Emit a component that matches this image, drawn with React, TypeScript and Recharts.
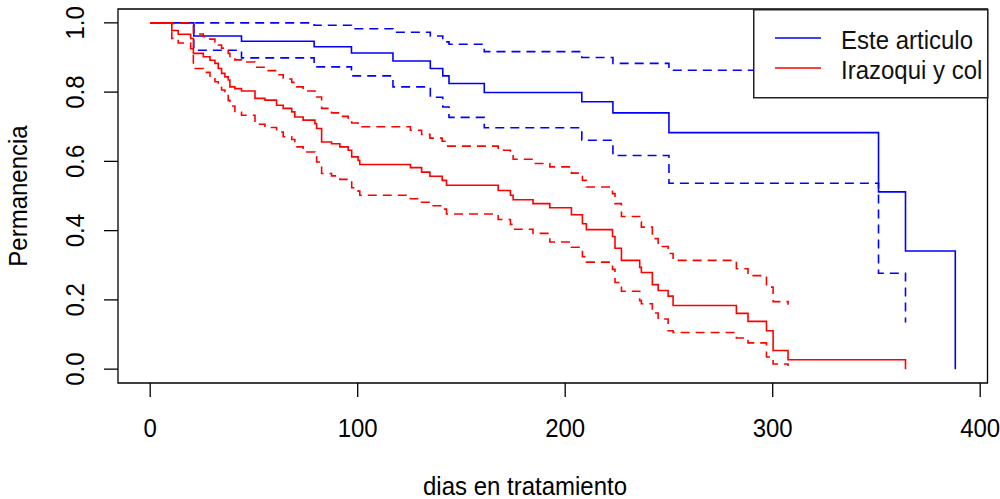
import { LineChart, Line, XAxis, YAxis, ReferenceArea, Legend } from 'recharts';

const FONT = '"Liberation Sans", Arial, sans-serif';

// ejes
const xTicks = [0, 100, 200, 300, 400];
const yTicks = [0, 0.2, 0.4, 0.6, 0.8, 1];
const xDomain = [-15.52, 403.52];
const yDomain = [-0.04, 1.04];

// Este articulo (azul)
const blueTimes = [0, 21, 44, 79, 97, 117, 135, 141, 144, 161, 208, 223, 250, 351, 364, 388];
const blueSurv = [1, 0.962, 0.947, 0.931, 0.913, 0.89, 0.868, 0.847, 0.825, 0.799, 0.772, 0.74, 0.683, 0.512, 0.341, 0];
const blueUpper = [1, 1, 1, 0.993, 0.983, 0.973, 0.962, 0.945, 0.938, 0.917, 0.9, 0.883, 0.863, 0.85, 0.8, null];
const blueLower = [1, 0.921, 0.899, 0.873, 0.847, 0.815, 0.785, 0.757, 0.727, 0.697, 0.661, 0.617, 0.537, 0.277, 0.135, null];

// Irazoqui y col (rojo)
const redTimes = [
  0, 10.4, 13.5, 19.5, 20.8, 25.6, 28.8, 31.2, 32.8, 34.4, 36, 37.6, 38.4, 40.8, 44, 50.5, 55.3, 60.9, 64.1, 68.2,
  69.7, 73.7, 79.4, 80.2, 82.6, 87.4, 91.4, 95.4, 97.1, 100.2, 101, 125.4, 130.8, 134.8, 140.7, 142.8, 167.7, 173.6,
  174.9, 184.5, 192.6, 203, 208.3, 210.2, 222.8, 224, 227.1, 235.9, 236.7, 242, 244.8, 249.6, 252, 282.5, 288.1,
  297, 300.2, 307.4, 364,
];
const redSurv = [
  1, 0.978, 0.967, 0.955, 0.912, 0.902, 0.892, 0.883, 0.868, 0.854, 0.844, 0.835, 0.815, 0.81, 0.803, 0.782, 0.777,
  0.762, 0.753, 0.743, 0.728, 0.719, 0.709, 0.695, 0.656, 0.651, 0.642, 0.632, 0.613, 0.603, 0.591, 0.582, 0.569,
  0.557, 0.545, 0.531, 0.516, 0.502, 0.489, 0.478, 0.466, 0.446, 0.42, 0.403, 0.383, 0.349, 0.314, 0.294, 0.279,
  0.244, 0.227, 0.211, 0.184, 0.161, 0.138, 0.111, 0.054, 0.027, 0,
];
const redUpper = [
  1, 1, 1, 1, 0.968, 0.96, 0.953, 0.945, 0.936, 0.927, 0.92, 0.912, 0.9, 0.893, 0.887, 0.872, 0.862, 0.85, 0.838,
  0.828, 0.815, 0.803, 0.796, 0.786, 0.753, 0.74, 0.73, 0.719, 0.711, 0.705, 0.7, 0.69, 0.678, 0.667, 0.658, 0.644,
  0.632, 0.625, 0.606, 0.594, 0.584, 0.566, 0.545, 0.526, 0.507, 0.478, 0.441, 0.425, 0.41, 0.377, 0.354, 0.334,
  0.314, 0.29, 0.27, 0.237, 0.195, 0.186, null,
];
const redLower = [
  1, 0.955, 0.942, 0.925, 0.868, 0.857, 0.843, 0.83, 0.818, 0.806, 0.793, 0.776, 0.76, 0.742, 0.733, 0.707, 0.698,
  0.685, 0.671, 0.663, 0.642, 0.627, 0.613, 0.598, 0.565, 0.558, 0.548, 0.54, 0.524, 0.514, 0.502, 0.492, 0.482,
  0.472, 0.462, 0.448, 0.432, 0.418, 0.404, 0.392, 0.367, 0.352, 0.325, 0.309, 0.288, 0.25, 0.225, 0.198, 0.189,
  0.162, 0.145, 0.111, 0.106, 0.09, 0.076, 0.035, 0.015, 0.009, null,
];

const toPoints = (times: number[], vals: (number | null)[]) =>
  times.map((t, i) => ({ t, v: vals[i] })).filter((p) => p.v !== null);

const XTick = (props: any) => {
  const { x, y, payload } = props;
  return (
    <text transform={`translate(${x} ${y + 40}) scale(1 1.08)`} textAnchor="middle" fontSize={24} fontFamily={FONT} fill="#000">
      {payload.value}
    </text>
  );
};

const YTick = (props: any) => {
  const { x, y, payload } = props;
  const bx = x - 20;
  return (
    <text transform={`translate(${bx} ${y}) rotate(-90) scale(1 1.08)`} textAnchor="middle" fontSize={24} fontFamily={FONT} fill="#000">
      {Number(payload.value).toFixed(1)}
    </text>
  );
};

const XTitle = () => (
  <text transform="translate(525 495) scale(1 1.08)" textAnchor="middle" fontSize={24} fontFamily={FONT} fill="#000">
    dias en tratamiento
  </text>
);

const YTitle = () => (
  <text transform="translate(26.5 196) rotate(-90) scale(1 1.08)" textAnchor="middle" fontSize={24} fontFamily={FONT} fill="#000">
    Permanencia
  </text>
);

const LegendBox = () => (
  <svg width={236} height={90} style={{ display: 'block' }}>
    <rect x={0.75} y={0.75} width={234} height={88} fill="#fff" stroke="#222" strokeWidth={1.5} />
    <line x1={22} x2={68} y1={29} y2={29} stroke="#0000ff" strokeWidth={1.6} />
    <line x1={22} x2={68} y1={59} y2={59} stroke="#ff0000" strokeWidth={1.6} />
    <text transform="translate(88 40) scale(1 1.08)" fontSize={24} fontFamily={FONT} fill="#111">
      Este articulo
    </text>
    <text transform="translate(88 70) scale(1 1.08)" fontSize={24} fontFamily={FONT} fill="#111">
      Irazoqui y col
    </text>
  </svg>
);

export default function App() {
  return (
    <div style={{ position: 'absolute', left: 0, top: 0, width: 1000, height: 499, background: '#fff' }}>
      <LineChart width={1000} height={499} margin={{ top: 9, right: 12.5, bottom: 56, left: 58 }}>
        <XAxis
          type="number"
          dataKey="t"
          domain={xDomain}
          ticks={xTicks}
          allowDataOverflow
          axisLine={false}
          tickLine={{ stroke: '#000', strokeWidth: 1.3 }}
          tickSize={14}
          tickMargin={0}
          height={60}
          tick={<XTick />}
          label={<XTitle />}
        />
        <YAxis
          type="number"
          domain={yDomain}
          ticks={yTicks}
          allowDataOverflow
          axisLine={false}
          tickLine={{ stroke: '#000', strokeWidth: 1.3 }}
          tickSize={14}
          tickMargin={0}
          width={60}
          tick={<YTick />}
          label={<YTitle />}
        />
        <ReferenceArea
          x1={xDomain[0]}
          x2={xDomain[1]}
          y1={yDomain[0]}
          y2={yDomain[1]}
          fill="none"
          stroke="#000"
          strokeWidth={1.3}
          ifOverflow="visible"
        />
        <Line data={toPoints(blueTimes, blueUpper)} dataKey="v" type="stepAfter" stroke="#0000ff" strokeWidth={1.6} strokeDasharray="9 6" dot={false} isAnimationActive={false} />
        <Line data={toPoints(blueTimes, blueLower)} dataKey="v" type="stepAfter" stroke="#0000ff" strokeWidth={1.6} strokeDasharray="9 6" dot={false} isAnimationActive={false} />
        <Line data={toPoints(blueTimes, blueSurv)} dataKey="v" type="stepAfter" stroke="#0000ff" strokeWidth={1.6} dot={false} isAnimationActive={false} />
        <Line data={toPoints(redTimes, redUpper)} dataKey="v" type="stepAfter" stroke="#ff0000" strokeWidth={1.6} strokeDasharray="9 6" dot={false} isAnimationActive={false} />
        <Line data={toPoints(redTimes, redLower)} dataKey="v" type="stepAfter" stroke="#ff0000" strokeWidth={1.6} strokeDasharray="9 6" dot={false} isAnimationActive={false} />
        <Line data={toPoints(redTimes, redSurv)} dataKey="v" type="stepAfter" stroke="#ff0000" strokeWidth={1.6} dot={false} isAnimationActive={false} />
        <Legend
          layout="vertical"
          align="center"
          verticalAlign="middle"
          wrapperStyle={{ left: 752.5, top: 9, width: 236, height: 90 }}
          content={() => <LegendBox />}
        />
      </LineChart>
    </div>
  );
}
